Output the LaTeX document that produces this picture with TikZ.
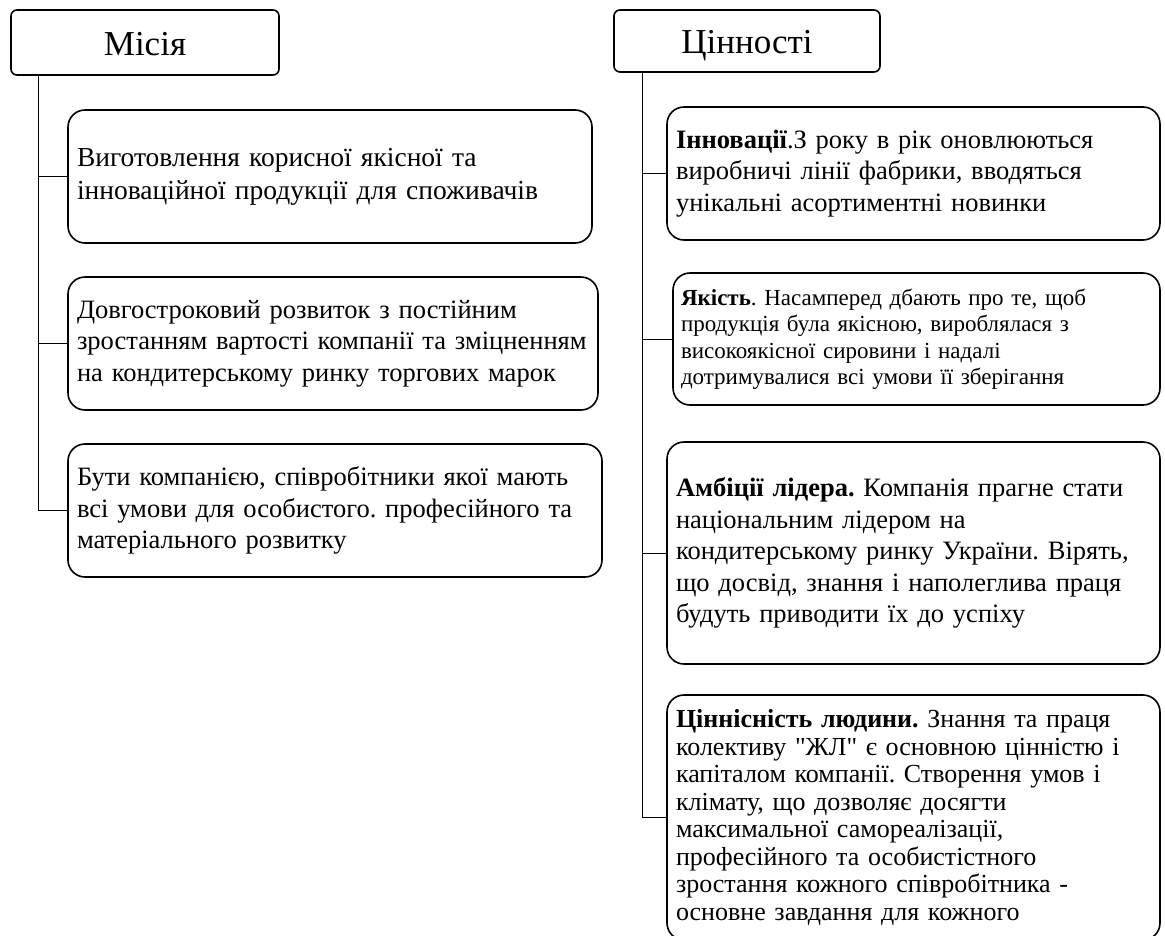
\documentclass[tikz,border=0pt]{standalone}
\usepackage{fontspec}
\setmainfont{Liberation Serif}
\newfontfamily\plainserif{Liberation Serif}
\newcommand{\straightq}{{\plainserif\char34}}
\begin{document}
\frenchspacing
\begin{tikzpicture}[x=1pt,y=-1pt,
  titlebox/.style={draw, line width=1.6pt, rounded corners=6pt, inner sep=0pt, text height=25pt, text depth=0pt, font=\fontsize{35}{40}\selectfont},
  itembox/.style={draw, line width=1.6pt, rounded corners=17pt, align=left, inner xsep=9pt, inner ysep=0pt, font=\fontsize{26.5}{31.5}\selectfont},
  bigitem/.style={itembox, font=\fontsize{27.5}{33}\selectfont},
  smallitem/.style={itembox, inner xsep=8pt, font=\fontsize{23}{26.5}\selectfont},
  tightitem/.style={itembox, font=\fontsize{26}{27.5}\selectfont},
  link/.style={line width=0.8pt}]
\useasboundingbox (0,0) rectangle (1165,935);

% titles
\node[titlebox, minimum width=268pt, minimum height=65pt] (mis) at (145,42.5) {Місія};
\node[titlebox, minimum width=266pt, minimum height=62pt] (val) at (747,41) {Цінності};

% mission items
\node[bigitem, minimum width=524pt, minimum height=133pt, text width=506pt] (m1) at (330,176.5)
 {Виготовлення корисної якісної та\\інноваційної продукції для споживачів};
\node[itembox, minimum width=530pt, minimum height=133pt, text width=512pt] (m2) at (333,343.5)
 {Довгостроковий розвиток з постійним\\зростанням вартості компанії та зміцненням\\на кондитерському ринку торгових марок};
\node[itembox, minimum width=534pt, minimum height=133pt, text width=516pt] (m3) at (335,510.5)
 {Бути компанією, співробітники якої мають\\всі умови для особистого. професійного та\\матеріального розвитку};

% value items
\node[itembox, minimum width=493pt, minimum height=133pt, text width=475pt] (v1) at (913.5,173.5)
 {\textbf{Інновації}.З року в рік оновлюються\\виробничі лінії фабрики, вводяться\\унікальні асортиментні новинки};
\node[smallitem, minimum width=487pt, minimum height=132pt, text width=471pt] (v2) at (916.5,339)
 {\textbf{Якість}. Насамперед дбають про те, щоб\\продукція була якісною, вироблялася з\\високоякісної сировини і надалі\\дотримувалися всі умови її зберігання};
\node[itembox, minimum width=493pt, minimum height=222pt, text width=475pt] (v3) at (913.5,553)
 {\textbf{Амбіції лідера.} Компанія прагне стати\\національним лідером на\\кондитерському ринку України. Вірять,\\що досвід, знання і наполеглива праця\\будуть приводити їх до успіху};
\node[tightitem, minimum width=493pt, minimum height=245pt, text width=475pt] (v4) at (913.5,817.5)
 {\textbf{Ціннісність людини.} Знання та праця\\колективу \straightq ЖЛ\straightq{} є основною цінністю і\\капіталом компанії. Створення умов і\\клімату, що дозволяє досягти\\максимальної самореалізації,\\професійного та особистістного\\зростання кожного співробітника -\\основне завдання для кожного};

% trunks
\coordinate (mt) at (38,0);
\coordinate (vt) at (642,0);
\draw[link] (mis.south -| mt) |- (m3.west);
\draw[link] (mt |- m1.west) -- (m1.west);
\draw[link] (mt |- m2.west) -- (m2.west);
\draw[link] (val.south -| vt) |- (v4.west);
\draw[link] (vt |- v1.west) -- (v1.west);
\draw[link] (vt |- v2.west) -- (v2.west);
\draw[link] (vt |- v3.west) -- (v3.west);
\end{tikzpicture}
\end{document}
